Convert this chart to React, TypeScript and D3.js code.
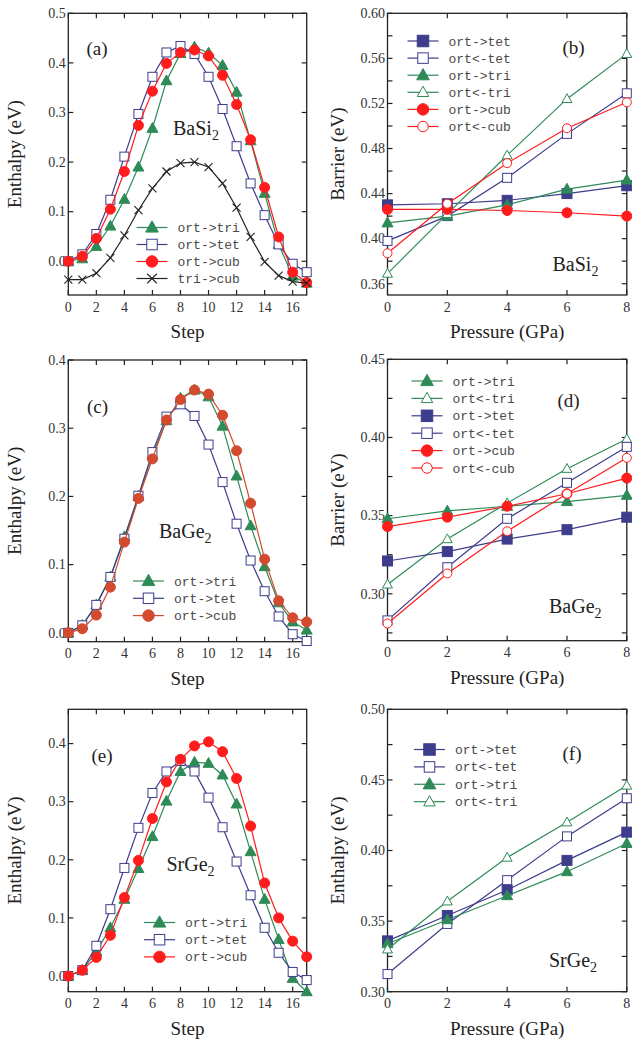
import React from 'react';
import * as d3 from 'd3';

// ---------- data ----------
const steps = [0, 1, 2, 3, 4, 5, 6, 7, 8, 9, 10, 11, 12, 13, 14, 15, 16, 17];
const pressures = [0, 2, 4, 6, 8];

// (a) BaSi2 enthalpy along path
const aTri = [0.0, 0.005, 0.03, 0.071, 0.125, 0.19, 0.268, 0.364, 0.419, 0.432, 0.42, 0.395, 0.341, 0.243, 0.137, 0.034, -0.03, -0.044];
const aTet = [0.0, 0.014, 0.055, 0.124, 0.211, 0.297, 0.372, 0.421, 0.434, 0.418, 0.372, 0.307, 0.232, 0.157, 0.093, 0.034, -0.005, -0.022];
const aCub = [0.0, 0.01, 0.046, 0.105, 0.181, 0.274, 0.343, 0.399, 0.421, 0.426, 0.414, 0.375, 0.316, 0.245, 0.149, 0.049, -0.022, -0.043];
const aTriCub = [-0.037, -0.037, -0.024, 0.007, 0.052, 0.103, 0.147, 0.181, 0.198, 0.2, 0.19, 0.157, 0.108, 0.049, -0.001, -0.029, -0.041, -0.044];

// (b) BaSi2 barrier vs pressure
const bTet = [0.43, 0.431, 0.434, 0.44, 0.447];
const bTetR = [0.398, 0.42, 0.454, 0.493, 0.529];
const bTri = [0.414, 0.42, 0.43, 0.444, 0.452];
const bTriR = [0.369, 0.422, 0.474, 0.524, 0.564];
const bCub = [0.426, 0.426, 0.425, 0.423, 0.42];
const bCubR = [0.387, 0.431, 0.467, 0.498, 0.521];

// (c) BaGe2 enthalpy along path
const cTri = [0.0, 0.011, 0.041, 0.082, 0.141, 0.2, 0.261, 0.311, 0.344, 0.356, 0.346, 0.303, 0.23, 0.157, 0.097, 0.044, 0.016, 0.004];
const cTet = [0.0, 0.011, 0.041, 0.082, 0.138, 0.201, 0.265, 0.317, 0.335, 0.318, 0.276, 0.221, 0.16, 0.106, 0.061, 0.024, -0.002, -0.012];
const cCub = [0.0, 0.006, 0.026, 0.067, 0.133, 0.197, 0.255, 0.312, 0.342, 0.356, 0.35, 0.319, 0.267, 0.19, 0.108, 0.047, 0.022, 0.016];

// (d) BaGe2 barrier vs pressure
const dTri = [0.348, 0.353, 0.356, 0.359, 0.363];
const dTriR = [0.306, 0.335, 0.358, 0.38, 0.399];
const dTet = [0.321, 0.327, 0.335, 0.341, 0.349];
const dTetR = [0.283, 0.317, 0.348, 0.371, 0.394];
const dCub = [0.343, 0.349, 0.356, 0.364, 0.374];
const dCubR = [0.281, 0.313, 0.34, 0.364, 0.387];

// (e) SrGe2 enthalpy along path
const eTri = [0.0, 0.01, 0.042, 0.083, 0.132, 0.185, 0.24, 0.301, 0.352, 0.368, 0.366, 0.346, 0.296, 0.214, 0.132, 0.063, -0.004, -0.027];
const eTet = [0.0, 0.01, 0.052, 0.115, 0.186, 0.255, 0.315, 0.352, 0.37, 0.352, 0.307, 0.256, 0.197, 0.139, 0.083, 0.04, 0.007, -0.007];
const eCub = [0.0, 0.01, 0.032, 0.07, 0.135, 0.199, 0.271, 0.334, 0.373, 0.396, 0.403, 0.386, 0.34, 0.258, 0.16, 0.1, 0.06, 0.033];

// (f) SrGe2 barrier vs pressure
const fTet = [0.336, 0.354, 0.372, 0.393, 0.413];
const fTetR = [0.3125, 0.348, 0.379, 0.41, 0.437];
const fTri = [0.334, 0.351, 0.368, 0.385, 0.405];
const fTriR = [0.33, 0.364, 0.395, 0.42, 0.446];

// tick values
const stepTicks = [0, 2, 4, 6, 8, 10, 12, 14, 16];
const enthTicks = [0.0, 0.1, 0.2, 0.3, 0.4, 0.5];
const enthTicksC = [0.0, 0.1, 0.2, 0.3, 0.4];
const bTicks = [0.36, 0.38, 0.4, 0.42, 0.44, 0.46, 0.48, 0.5, 0.52, 0.54, 0.56, 0.58, 0.6];
const bLabels = [0.36, 0.4, 0.44, 0.48, 0.52, 0.56, 0.6];
const dTicks = [0.275, 0.3, 0.325, 0.35, 0.375, 0.4, 0.425, 0.45];
const dLabels = [0.3, 0.35, 0.4, 0.45];
const fTicks = [0.3, 0.325, 0.35, 0.375, 0.4, 0.425, 0.45, 0.475, 0.5];
const fLabels = [0.3, 0.35, 0.4, 0.45, 0.5];

// ---------- styles ----------
const GREEN = '#2e8b57';
const NAVY = '#3d3d8c';
const RED = '#ff1c1c';
const BROWN = '#d34a2e';
const BLACK = '#222222';
const SERIF = '"Liberation Serif", "Times New Roman", serif';
const MONO = '"Liberation Mono", "Courier New", monospace';

type Mk = 'triF' | 'triO' | 'sqF' | 'sqO' | 'cirF' | 'cirO' | 'x';
interface Series { name: string; values: number[]; color: string; marker: Mk; size: number }

function Marker({ type, x, y, color, size }: { type: Mk; x: number; y: number; color: string; size: number }) {
  const s = size;
  const filled = type.endsWith('F');
  const fill = filled ? color : '#ffffff';
  if (type === 'triF' || type === 'triO') {
    const pts = [[x, y - s * 0.58], [x - s * 0.55, y + s * 0.4], [x + s * 0.55, y + s * 0.4]];
    return <polygon points={pts.map(p => p.join(',')).join(' ')} fill={fill} stroke={color} strokeWidth={1} />;
  }
  if (type === 'sqF' || type === 'sqO') {
    return <rect x={x - s / 2} y={y - s / 2} width={s} height={s} fill={fill} stroke={color} strokeWidth={1} />;
  }
  if (type === 'cirF' || type === 'cirO') {
    return <circle cx={x} cy={y} r={s / 2} fill={fill} stroke={color} strokeWidth={1} />;
  }
  const h = s / 2;
  return (
    <g stroke={color} strokeWidth={1.1}>
      <line x1={x - h} y1={y - h} x2={x + h} y2={y + h} />
      <line x1={x - h} y1={y + h} x2={x + h} y2={y - h} />
    </g>
  );
}

interface PanelProps {
  left: number; right: number; top: number; bottom: number;
  xs: number[]; xDomain: [number, number]; yDomain: [number, number];
  xTicks: number[]; yTicks: number[]; yLabels: number[]; yFmt: string;
  xTitle: string; yTitle: string; yTitleX: number;
  series: Series[];
  legend: { x: number; y: number; gap: number; order: Series[] };
  tag: string; tagX: number; tagY: number;
  comp: [string, string]; compX: number; compY: number;
}

function Panel(p: PanelProps) {
  const x = d3.scaleLinear().domain(p.xDomain).range([p.left, p.right]);
  const y = d3.scaleLinear().domain(p.yDomain).range([p.bottom, p.top]);
  const line = d3.line<number>().x((_, i) => x(p.xs[i])).y(d => y(d));
  const fmt = d3.format(p.yFmt);
  const T = 5;
  const w = p.right - p.left, h = p.bottom - p.top;
  return (
    <g>
      <rect x={p.left} y={p.top} width={w} height={h} fill="none" stroke="#222" strokeWidth={1.3} />
      {p.xTicks.map(t => (
        <g key={'xt' + t} stroke="#222" strokeWidth={1.2}>
          <line x1={x(t)} x2={x(t)} y1={p.bottom} y2={p.bottom - T} />
          <line x1={x(t)} x2={x(t)} y1={p.top} y2={p.top + T} />
        </g>
      ))}
      {p.yTicks.map(t => (
        <g key={'yt' + t} stroke="#222" strokeWidth={1.2}>
          <line x1={p.left} x2={p.left + T} y1={y(t)} y2={y(t)} />
          <line x1={p.right} x2={p.right - T} y1={y(t)} y2={y(t)} />
        </g>
      ))}
      {p.xTicks.map(t => (
        <text key={'xl' + t} x={x(t)} y={p.bottom + 16.5} textAnchor="middle" fontFamily={SERIF} fontSize={14} fill="#333">{t}</text>
      ))}
      {p.yLabels.map(t => (
        <text key={'yl' + t} x={p.left - 2.5} y={y(t) + 4.8} textAnchor="end" fontFamily={SERIF} fontSize={14} fill="#333">{fmt(t)}</text>
      ))}
      <text x={(p.left + p.right) / 2} y={p.bottom + 43} textAnchor="middle" fontFamily={SERIF} fontSize={19} fill="#222">{p.xTitle}</text>
      <text transform={`translate(${p.yTitleX},${(p.top + p.bottom) / 2}) rotate(-90)`} textAnchor="middle" fontFamily={SERIF} fontSize={19} fill="#222">{p.yTitle}</text>
      {p.series.map(s => (
        <g key={s.name}>
          <path d={line(s.values) || ''} fill="none" stroke={s.color} strokeWidth={1.2} />
          {s.values.map((v, i) => (
            <Marker key={i} type={s.marker} x={x(p.xs[i])} y={y(v)} color={s.color} size={s.size} />
          ))}
        </g>
      ))}
      {p.legend.order.map((s, i) => {
        const ly = p.legend.y + i * p.legend.gap;
        return (
          <g key={'lg' + s.name}>
            <line x1={p.legend.x} x2={p.legend.x + 31} y1={ly} y2={ly} stroke={s.color} strokeWidth={1.2} />
            <Marker type={s.marker} x={p.legend.x + 15.5} y={ly} color={s.color} size={s.size + 1.5} />
            <text x={p.legend.x + 41} y={ly + 4.5} fontFamily={MONO} fontSize={13} fill="#4a4a4a">{s.name}</text>
          </g>
        );
      })}
      <text x={p.tagX} y={p.tagY} fontFamily={SERIF} fontSize={19} fill="#222">{p.tag}</text>
      <text x={p.compX} y={p.compY} fontFamily={SERIF} fontSize={20} fill="#222">
        {p.comp[0]}<tspan fontSize={14} dy={5}>{p.comp[1]}</tspan>
      </text>
    </g>
  );
}

export default function App() {
  const L1 = 68.3, R1 = 306.7, L2 = 387.5, R2 = 626.8;

  const sA: Series[] = [
    { name: 'ort->tri', values: aTri, color: GREEN, marker: 'triF', size: 10 },
    { name: 'ort->tet', values: aTet, color: NAVY, marker: 'sqO', size: 9 },
    { name: 'ort->cub', values: aCub, color: RED, marker: 'cirF', size: 10 },
    { name: 'tri->cub', values: aTriCub, color: BLACK, marker: 'x', size: 8 },
  ];
  const sB: Series[] = [
    { name: 'ort->tet', values: bTet, color: NAVY, marker: 'sqF', size: 10 },
    { name: 'ort<-tet', values: bTetR, color: NAVY, marker: 'sqO', size: 9 },
    { name: 'ort->tri', values: bTri, color: GREEN, marker: 'triF', size: 10 },
    { name: 'ort<-tri', values: bTriR, color: GREEN, marker: 'triO', size: 9 },
    { name: 'ort->cub', values: bCub, color: RED, marker: 'cirF', size: 10 },
    { name: 'ort<-cub', values: bCubR, color: RED, marker: 'cirO', size: 9 },
  ];
  const sC: Series[] = [
    { name: 'ort->tri', values: cTri, color: GREEN, marker: 'triF', size: 10 },
    { name: 'ort->tet', values: cTet, color: NAVY, marker: 'sqO', size: 9 },
    { name: 'ort->cub', values: cCub, color: BROWN, marker: 'cirF', size: 10 },
  ];
  const sD: Series[] = [
    { name: 'ort->tri', values: dTri, color: GREEN, marker: 'triF', size: 10 },
    { name: 'ort<-tri', values: dTriR, color: GREEN, marker: 'triO', size: 9 },
    { name: 'ort->tet', values: dTet, color: NAVY, marker: 'sqF', size: 10 },
    { name: 'ort<-tet', values: dTetR, color: NAVY, marker: 'sqO', size: 9 },
    { name: 'ort->cub', values: dCub, color: RED, marker: 'cirF', size: 10 },
    { name: 'ort<-cub', values: dCubR, color: RED, marker: 'cirO', size: 9 },
  ];
  const sE: Series[] = [
    { name: 'ort->tri', values: eTri, color: GREEN, marker: 'triF', size: 10 },
    { name: 'ort->tet', values: eTet, color: NAVY, marker: 'sqO', size: 9 },
    { name: 'ort->cub', values: eCub, color: RED, marker: 'cirF', size: 10 },
  ];
  const sF: Series[] = [
    { name: 'ort->tet', values: fTet, color: NAVY, marker: 'sqF', size: 10 },
    { name: 'ort<-tet', values: fTetR, color: NAVY, marker: 'sqO', size: 9 },
    { name: 'ort->tri', values: fTri, color: GREEN, marker: 'triF', size: 10 },
    { name: 'ort<-tri', values: fTriR, color: GREEN, marker: 'triO', size: 9 },
  ];

  return (
    <svg width={632} height={1041} viewBox="0 0 632 1041" style={{ position: 'absolute', left: 0, top: 0, display: 'block', background: '#fff' }}>
      <rect width={632} height={1041} fill="#fff" />
      <Panel left={L1} right={R1} top={13.3} bottom={295} xs={steps} xDomain={[0, 17]} yDomain={[-0.068, 0.5]}
        xTicks={stepTicks} yTicks={enthTicks} yLabels={enthTicks} yFmt=".1f"
        xTitle="Step" yTitle="Enthalpy (eV)" yTitleX={21} series={sA}
        legend={{ x: 136.5, y: 227.5, gap: 17, order: sA }}
        tag="(a)" tagX={86.5} tagY={55} comp={['BaSi', '2']} compX={173} compY={134.5} />
      <Panel left={L2} right={R2} top={13.3} bottom={295} xs={pressures} xDomain={[0, 8]} yDomain={[0.35, 0.6]}
        xTicks={pressures} yTicks={bTicks} yLabels={bLabels} yFmt=".2f"
        xTitle="Pressure (GPa)" yTitle="Barrier (eV)" yTitleX={344} series={sB}
        legend={{ x: 407.5, y: 41, gap: 17.1, order: sB }}
        tag="(b)" tagX={562.5} tagY={54} comp={['BaSi', '2']} compX={552.5} compY={270.5} />
      <Panel left={L1} right={R1} top={360} bottom={641.7} xs={steps} xDomain={[0, 17]} yDomain={[-0.013, 0.4]}
        xTicks={stepTicks} yTicks={enthTicksC} yLabels={enthTicksC} yFmt=".1f"
        xTitle="Step" yTitle="Enthalpy (eV)" yTitleX={21} series={sC}
        legend={{ x: 133, y: 581, gap: 17.3, order: sC }}
        tag="(c)" tagX={87} tagY={413} comp={['BaGe', '2']} compX={159} compY={538} />
      <Panel left={L2} right={R2} top={359.3} bottom={640.7} xs={pressures} xDomain={[0, 8]} yDomain={[0.27, 0.45]}
        xTicks={pressures} yTicks={dTicks} yLabels={dLabels} yFmt=".2f"
        xTitle="Pressure (GPa)" yTitle="Barrier (eV)" yTitleX={344} series={sD}
        legend={{ x: 411.5, y: 381, gap: 17.4, order: sD }}
        tag="(d)" tagX={557.5} tagY={407} comp={['BaGe', '2']} compX={549} compY={613} />
      <Panel left={L1} right={R1} top={709.3} bottom={991.7} xs={steps} xDomain={[0, 17]} yDomain={[-0.027, 0.459]}
        xTicks={stepTicks} yTicks={enthTicksC} yLabels={enthTicksC} yFmt=".1f"
        xTitle="Step" yTitle="Enthalpy (eV)" yTitleX={21} series={sE}
        legend={{ x: 144, y: 922.5, gap: 17.2, order: sE }}
        tag="(e)" tagX={91.5} tagY={762} comp={['SrGe', '2']} compX={166.5} compY={870.5} />
      <Panel left={L2} right={R2} top={709.3} bottom={991.7} xs={pressures} xDomain={[0, 8]} yDomain={[0.3, 0.5]}
        xTicks={pressures} yTicks={fTicks} yLabels={fLabels} yFmt=".2f"
        xTitle="Pressure (GPa)" yTitle="Enthalpy (eV)" yTitleX={344} series={sF}
        legend={{ x: 414, y: 749.5, gap: 17.4, order: sF }}
        tag="(f)" tagX={562.5} tagY={760} comp={['SrGe', '2']} compX={549} compY={966.5} />
    </svg>
  );
}
